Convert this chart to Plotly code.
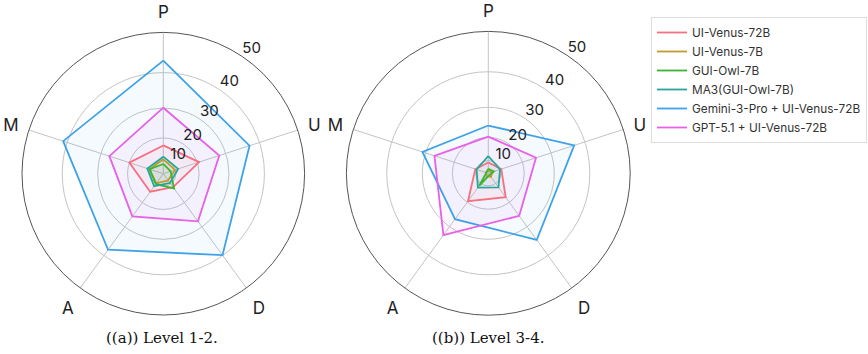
import plotly.graph_objects as go

# ---------------- data ----------------
categories = ["P", "U", "D", "A", "M"]
series_names = ["UI-Venus-72B", "UI-Venus-7B", "GUI-Owl-7B", "MA3(GUI-Owl-7B)",
                "Gemini-3-Pro + UI-Venus-72B", "GPT-5.1 + UI-Venus-72B"]
series_colors = ["#f7707f", "#c49a2c", "#3cb52f", "#26a69a", "#3ea2e8", "#e860e8"]

# Level 1-2 (P, U, D, A, M)
l12_venus72 = [17.1, 20.7, 12.0, 14.6, 20.0]
l12_venus7 = [10.9, 9.8, 7.5, 9.6, 11.0]
l12_owl7 = [8.4, 7.2, 12.8, 10.0, 10.9]
l12_ma3 = [12.2, 11.5, 9.3, 11.5, 12.1]
l12_gemini = [43.1, 37.2, 39.9, 38.1, 41.1]
l12_gpt = [30.1, 27.9, 27.9, 25.9, 27.2]

# Level 3-4 (P, U, D, A, M)
l34_venus72 = [9.0, 10.5, 17.6, 19.5, 10.5]
l34_venus7 = [3.5, 5.0, 5.0, 4.0, 3.5]
l34_owl7 = [5.0, 6.0, 3.0, 11.4, 3.0]
l34_ma3 = [12.3, 9.8, 12.3, 12.5, 9.8]
l34_gemini = [24.2, 37.0, 34.8, 27.1, 31.0]
l34_gpt = [20.3, 25.0, 25.8, 33.1, 27.1]

radial_ticks = [10, 20, 30, 40, 50]
radial_tick_labels = ["10", "20", "30", "40", "50"]
radial_label_angle = 34  # degrees clockwise from P
captions = ["((a)) Level 1-2.", "((b)) Level 3-4."]

# ---------------- helpers ----------------
POWER = 1.5  # radial axis uses a power scale (r ~ value^1.5)


def rscale(vals):
    return [v ** POWER for v in vals]


def hex_rgba(h, a):
    h = h.lstrip("#")
    return "rgba(%d,%d,%d,%.3f)" % (int(h[0:2], 16), int(h[2:4], 16), int(h[4:6], 16), a)


cat_angles = [i * 360 / len(categories) for i in range(len(categories))]
theta_closed = cat_angles + [cat_angles[0]]

FONT = "Inter, Lato, sans-serif"
SERIF = "DejaVu Serif, Liberation Serif, serif"
fig = go.Figure()

levels = [
    ("polar", [l12_venus72, l12_venus7, l12_owl7, l12_ma3, l12_gemini, l12_gpt]),
    ("polar2", [l34_venus72, l34_venus7, l34_owl7, l34_ma3, l34_gemini, l34_gpt]),
]

fill_alpha = [0.05, 0.05, 0.05, 0.08, 0.06, 0.06]
draw_order = [4, 5, 0, 1, 2, 3]

for li, (sub, data) in enumerate(levels):
    # fills first
    for k in draw_order:
        r = rscale(data[k])
        fig.add_trace(go.Scatterpolar(
            r=r + [r[0]], theta=theta_closed, subplot=sub, mode="lines",
            fill="toself", fillcolor=hex_rgba(series_colors[k], fill_alpha[k]),
            line=dict(width=0, color=series_colors[k]), showlegend=False, hoverinfo="skip"))
    for k in draw_order:
        r = rscale(data[k])
        fig.add_trace(go.Scatterpolar(
            r=r + [r[0]], theta=theta_closed, subplot=sub, mode="lines",
            line=dict(width=1.8, color=series_colors[k]),
            name=series_names[k], legendgroup=series_names[k],
            legendrank=k, showlegend=(li == 0)))
    # radial tick labels
    fig.add_trace(go.Scatterpolar(
        r=rscale(radial_ticks), theta=[radial_label_angle] * len(radial_ticks),
        subplot=sub, mode="text", text=radial_tick_labels, textposition="top right",
        textfont=dict(family=FONT, size=15, color="#222222"),
        showlegend=False, hoverinfo="skip"))

polar_common = dict(
    bgcolor="white",
    radialaxis=dict(range=[0, 50 ** POWER], tickvals=rscale(radial_ticks),
                    showticklabels=False, ticks="", showline=False,
                    gridcolor="#c4c4c4", gridwidth=0.8),
    angularaxis=dict(direction="clockwise", rotation=90, thetaunit="degrees",
                     tickmode="array", tickvals=cat_angles, ticktext=categories,
                     ticks="outside", ticklen=7, tickcolor="rgba(0,0,0,0)",
                     tickfont=dict(family=FONT, size=17, color="#222222"),
                     showline=True, linecolor="#555555", linewidth=1,
                     gridcolor="#c4c4c4", gridwidth=0.8),
)

W, H = 868, 354
fig.update_layout(
    width=W, height=H,
    margin=dict(l=0, r=0, t=0, b=0),
    paper_bgcolor="white",
    polar=dict(domain=dict(x=[22.0 / W, 304.6 / W], y=[1 - 315.2 / H, 1 - 32.2 / H]), **polar_common),
    polar2=dict(domain=dict(x=[346.3 / W, 630.3 / W], y=[1 - 315.2 / H, 1 - 31.4 / H]), **polar_common),
    legend=dict(x=651 / W, y=1 - 17 / H, xanchor="left", yanchor="top",
                bordercolor="#dddddd", borderwidth=1, bgcolor="white",
                font=dict(family=FONT, size=11.8, color="#333333"),
                tracegroupgap=0, itemwidth=30),
    showlegend=True,
    annotations=[
        dict(text=captions[0], x=162 / W, y=1 - 338 / H, xref="paper", yref="paper",
             xanchor="center", yanchor="middle",
             showarrow=False, font=dict(family=SERIF, size=15, color="#111")),
        dict(text=captions[1], x=488 / W, y=1 - 338 / H, xref="paper", yref="paper",
             xanchor="center", yanchor="middle",
             showarrow=False, font=dict(family=SERIF, size=15, color="#111")),
    ],
)

fig.write_html("out.html")
